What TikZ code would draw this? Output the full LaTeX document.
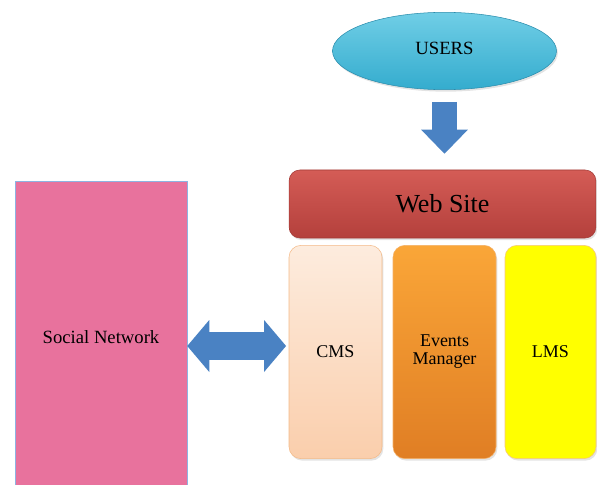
\documentclass[tikz,border=0pt]{standalone}
\usepackage{fontspec}
\setmainfont{Liberation Serif}
\usepackage{tikz}
\usetikzlibrary{arrows.meta, shapes.geometric, shadows}
\definecolor{usertop}{RGB}{112,206,230}
\definecolor{userbot}{RGB}{52,172,206}
\definecolor{userline}{RGB}{42,140,172}
\definecolor{arrowblue}{RGB}{74,130,195}
\definecolor{webtop}{RGB}{212,92,86}
\definecolor{webbot}{RGB}{180,64,60}
\definecolor{cmstop}{RGB}{253,236,222}
\definecolor{cmsbot}{RGB}{250,206,172}
\definecolor{cmsline}{RGB}{244,186,136}
\definecolor{evtop}{RGB}{250,166,56}
\definecolor{evbot}{RGB}{224,126,36}
\definecolor{evline}{RGB}{244,176,102}
\definecolor{lmsfill}{RGB}{255,255,0}
\definecolor{lmsline}{RGB}{244,196,132}
\definecolor{socialfill}{RGB}{232,114,157}
\definecolor{socialline}{RGB}{141,179,226}
\tikzset{
  softshadow/.style={drop shadow={opacity=0.22, shadow xshift=1pt, shadow yshift=-1.5pt}},
  userbubble/.style={
    ellipse,
    top color=usertop, bottom color=userbot,
    draw=userline, thin,
    minimum width=168pt, minimum height=58pt,
    font=\fontsize{14}{16}\selectfont,
    softshadow},
  sitebar/.style={
    rectangle, rounded corners=8pt,
    top color=webtop, bottom color=webbot,
    draw=webbot!90!black, thin,
    minimum width=230pt, minimum height=51pt,
    font=\fontsize{19.5}{22}\selectfont,
    softshadow},
  column/.style={
    rectangle, rounded corners=9pt,
    thin,
    minimum height=160pt,
    align=center,
    font=\fontsize{13.5}{13.5}\selectfont,
    softshadow},
  panel/.style={
    rectangle,
    fill=socialfill, draw=socialline, thin,
    minimum width=129pt, minimum height=234pt,
    font=\fontsize{14}{16}\selectfont},
  fatdown/.style={
    draw=arrowblue, line width=18.75pt,
    -{Triangle[length=18pt, width=35pt, line width=0pt]}},
  fatboth/.style={
    draw=arrowblue, line width=21pt,
    {Triangle[length=16.5pt, width=39pt, line width=0pt]}-{Triangle[length=16.5pt, width=39pt, line width=0pt]}},
}

\begin{document}
\begin{tikzpicture}[x=0.75pt, y=-0.75pt]
  \clip (0,0) rectangle (597,485);
  % top: users and the site
  \node[userbubble] (users) at (444.5,51) {\raisebox{4pt}{USERS}};
  \node[sitebar] (web) at (442.5,204) {Web Site};
  % the three parts of the site
  \node[column, top color=cmstop, bottom color=cmsbot, draw=cmsline,
        minimum width=69.75pt] (cms) at (335.5,352) {CMS};
  \node[column, top color=evtop, bottom color=evbot, draw=evline,
        minimum width=77.25pt] (events) at (444.5,352) {Events\\Manager};
  \node[column, fill=lmsfill, draw=lmsline,
        minimum width=68.25pt] (lms) at (550.5,352) {LMS};
  % left side
  \node[panel] (social) at (101,337) {Social Network};
  \coordinate (mid) at (0,346);

  \draw[fatdown, shorten <=9pt, shorten >=12pt] (users.south) -- (users.south |- web.north);
  \draw[fatboth, shorten >=2pt] (social.east |- mid) -- (cms.west |- mid);
\end{tikzpicture}
\end{document}
